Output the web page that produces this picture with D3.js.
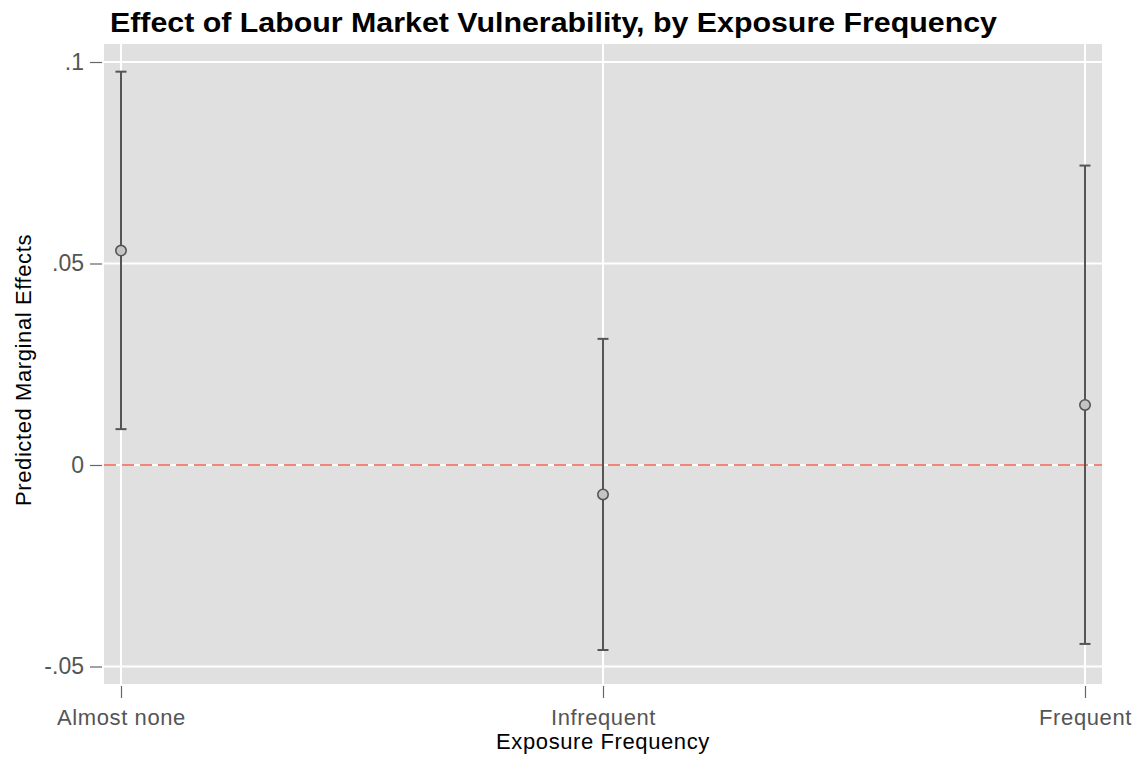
<!DOCTYPE html>
<html>
<head>
<meta charset="utf-8">
<script src="https://cdn.jsdelivr.net/npm/d3@7/dist/d3.min.js"></script>
<style>
  body { margin: 0; background: #fff; }
  svg { display: block; font-family: "Liberation Sans", Arial, Helvetica, sans-serif; }
</style>
</head>
<body>
<svg id="chart" width="1141" height="760"></svg>
<script>
// Marginal effects of labour market vulnerability with 95% confidence intervals
const categories = ["Almost none", "Infrequent", "Frequent"];
const estimates  = [0.0532, -0.0073, 0.0149];
const lowerCI    = [0.0089, -0.0459, -0.0444];
const upperCI    = [0.0976, 0.0313, 0.0743];
const yTicks     = [-0.05, 0, 0.05, 0.1];
const yTickLabels = ["-.05", "0", ".05", ".1"];

const svg = d3.select("#chart");
const plot = { left: 104, top: 44, right: 1102, bottom: 684 };
const tickFont = 22;

const x = d3.scalePoint()
  .domain(categories)
  .range([121, 1085]);

const y = d3.scaleLinear()
  .domain([-0.05, 0.1])
  .range([666.5, 62]);

// Plot background
svg.append("rect")
  .attr("x", plot.left).attr("y", plot.top)
  .attr("width", plot.right - plot.left)
  .attr("height", plot.bottom - plot.top)
  .attr("fill", "#e0e0e0");

// Grid lines
const grid = svg.append("g");
grid.selectAll("line.h").data(yTicks).join("line")
  .attr("x1", plot.left).attr("x2", plot.right)
  .attr("y1", d => y(d)).attr("y2", d => y(d))
  .attr("stroke", "#fff").attr("stroke-width", 2);
grid.selectAll("line.v").data(categories).join("line")
  .attr("x1", d => x(d)).attr("x2", d => x(d))
  .attr("y1", plot.top).attr("y2", plot.bottom)
  .attr("stroke", "#fff").attr("stroke-width", 2);

// Reference line at zero
svg.append("line")
  .attr("x1", plot.left).attr("x2", plot.right)
  .attr("y1", y(0)).attr("y2", y(0))
  .attr("stroke", "#f0867a").attr("stroke-width", 2)
  .attr("stroke-dasharray", "12,6");

// Y axis
const yAxis = d3.axisLeft(y)
  .tickValues(yTicks)
  .tickFormat((d, i) => yTickLabels[i])
  .tickSize(12)
  .tickPadding(6);
const gy = svg.append("g").attr("transform", `translate(${plot.left - 2},0)`).call(yAxis);
gy.select(".domain").remove();
gy.selectAll(".tick line").attr("stroke", "#666").attr("stroke-width", 1.2);
gy.selectAll(".tick text").attr("fill", "#555").attr("font-size", tickFont + 1)
  .attr("font-family", "Liberation Sans, Arial, sans-serif");

// X axis
const xAxis = d3.axisBottom(x).tickSize(12).tickPadding(11);
const gx = svg.append("g").attr("transform", `translate(0,${plot.bottom + 2})`).call(xAxis);
gx.select(".domain").remove();
gx.selectAll(".tick line").attr("stroke", "#666").attr("stroke-width", 1.2);
gx.selectAll(".tick text").attr("fill", "#555").attr("font-size", tickFont)
  .attr("font-family", "Liberation Sans, Arial, sans-serif")
  .attr("letter-spacing", 0.6);

// Confidence intervals
const rows = categories.map((c, i) => ({ c, est: estimates[i], lo: lowerCI[i], hi: upperCI[i] }));
const bars = svg.append("g").attr("stroke", "#555").attr("stroke-width", 2);
bars.selectAll("line.ci").data(rows).join("line")
  .attr("x1", d => x(d.c)).attr("x2", d => x(d.c))
  .attr("y1", d => y(d.lo)).attr("y2", d => y(d.hi));
bars.selectAll("line.capHi").data(rows).join("line")
  .attr("x1", d => x(d.c) - 5.5).attr("x2", d => x(d.c) + 5.5)
  .attr("y1", d => y(d.hi)).attr("y2", d => y(d.hi));
bars.selectAll("line.capLo").data(rows).join("line")
  .attr("x1", d => x(d.c) - 5.5).attr("x2", d => x(d.c) + 5.5)
  .attr("y1", d => y(d.lo)).attr("y2", d => y(d.lo));

// Point estimates
svg.append("g").selectAll("circle").data(rows).join("circle")
  .attr("cx", d => x(d.c)).attr("cy", d => y(d.est))
  .attr("r", 5.2)
  .attr("fill", "#c4c4c4").attr("stroke", "#555").attr("stroke-width", 1.6);

// Titles
svg.append("text")
  .attr("x", 110).attr("y", 32)
  .attr("font-size", 28).attr("font-weight", "bold").attr("fill", "#000")
  .attr("textLength", 887).attr("lengthAdjust", "spacingAndGlyphs")
  .text("Effect of Labour Market Vulnerability, by Exposure Frequency");

svg.append("text")
  .attr("x", x("Infrequent")).attr("y", 749)
  .attr("text-anchor", "middle")
  .attr("font-size", tickFont).attr("fill", "#000")
  .attr("letter-spacing", 0.6)
  .text("Exposure Frequency");

svg.append("text")
  .attr("transform", "translate(31,370) rotate(-90)")
  .attr("text-anchor", "middle")
  .attr("font-size", tickFont).attr("fill", "#000")
  .attr("letter-spacing", 0.6)
  .text("Predicted Marginal Effects");
</script>
</body>
</html>
